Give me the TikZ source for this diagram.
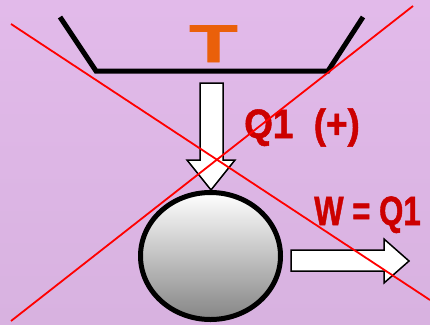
\documentclass[tikz,border=0pt]{standalone}
\usepackage{fontspec}
\setmainfont{Liberation Sans}
\newfontfamily\heavysans{Liberation Sans Bold}[FakeBold=1.3]
\usetikzlibrary{positioning}
\definecolor{bgtop}{RGB}{226,186,234}
\definecolor{bgbot}{RGB}{216,178,224}
\definecolor{qred}{RGB}{204,0,0}
\definecolor{torange}{RGB}{234,96,10}
\tikzset{pot/.style={line width=5pt,line join=miter},
 blk/.style={draw=black,fill=white,line width=1.5pt,line join=miter},
 xline/.style={draw=red,line width=1.8pt},
 lbl/.style={text=qred,font=\heavysans\fontsize{41}{41}\selectfont,inner sep=0pt,anchor=base west}}

\begin{document}
\begin{tikzpicture}[x=1pt,y=-1pt]
\shade[top color=bgtop,bottom color=bgbot] (0,0) rectangle (430,324);
\useasboundingbox (0,0) rectangle (430,324);
% vessel and temperature
\draw[pot] (60,17)--(96,71)--(328,71)--(363,17);
\node[text=torange,font=\heavysans\fontsize{53}{53}\selectfont,inner sep=0pt,anchor=base] (temp) at (213.5,62) {\scalebox{1.5}[1]{T}};
% heat in
\draw[blk] (200,83)--(223,83)--(223,160)--(235,160)--(211,190)--(187,160)--(200,160)--cycle;
\node[lbl] (heat) at (244,138) {\scalebox{0.9}[1]{Q1\hspace{0.55em}(+)}};
% engine
\shade[top color=white,bottom color=black!48,draw=black,line width=5pt] (210.5,256) ellipse [x radius=70pt,y radius=63.5pt];
% work out
\draw[blk] (291,250)--(384,250)--(384,239)--(409,261)--(384,283)--(384,271)--(291,271)--cycle;
\node[lbl] (work) at (314,225) {\scalebox{0.76}[1]{W = Q1}};
% crossed out
\draw[xline] (11,24)--(430,300);
\draw[xline] (413,6)--(11,321);
\end{tikzpicture}
\end{document}
